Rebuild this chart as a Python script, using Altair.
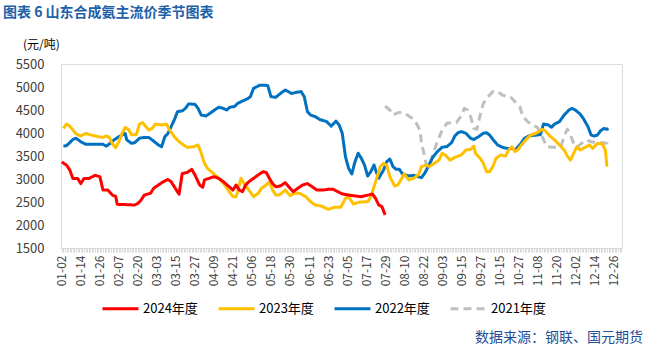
import altair as alt
import pandas as pd

# x positions are category indices (one category per trading day, labels every 12)
x_labels = ["01-02","01-14","01-26","02-07","02-20","03-03","03-15","03-27","04-09","04-21",
            "05-06","05-18","05-30","06-11","06-23","07-05","07-17","07-29","08-10","08-22",
            "09-03","09-15","09-27","10-15","10-27","11-08","11-20","12-02","12-14","12-26"]
y_ticks = [1500, 2000, 2500, 3000, 3500, 4000, 4500, 5000, 5500]

x_2024 = [0,3,5,7,10,12,14,17,21,24,26,29,32,34,35,46,48,50,52,54,56,58,61,64,67,69,71,74,76,79,82,84,
          87,89,90,93,96,99,102,105,108,110,112,114,116,118,121,124,127,129,131,133,135,138,141,144,
          146,149,152,155,158,161,165,168,171,177,183,189,196,198,200,202,204]
v_2024 = [3370,3300,3200,3010,3010,2900,3010,3010,3080,3050,2760,2760,2650,2620,2450,2435,2470,2540,
          2650,2670,2690,2800,2870,2940,2990,2940,2830,2670,3120,3140,3210,3090,2870,2820,2980,3015,
          3050,3015,2940,2850,2760,2870,2760,2725,2870,2940,3015,3090,3160,3140,3015,2900,2830,2850,
          2920,2800,2725,2800,2870,2900,2830,2760,2760,2775,2780,2675,2640,2615,2675,2580,2435,2400,2220]

x_2023 = [1,3,5,7,9,12,15,18,23,26,28,30,32,34,36,38,40,42,44,47,49,51,53,55,57,59,63,66,68,71,74,76,
          79,83,86,88,90,92,95,98,102,105,108,110,111,113,115,118,121,124,126,129,131,133,135,137,139,
          141,144,147,150,154,157,160,164,168,172,176,179,181,184,188,193,195,197,199,201,203,205,207,
          210,212,214,216,219,222,225,227,230,232,235,238,240,242,245,248,252,255,258,260,261,264,266,
          268,270,272,274,277,280,282,284,286,288,290,293,296,299,301,303,305,308,311,314,317,319,321,
          323,325,327,329,333,335,338,341,343,344]
v_2023 = [4100,4195,4150,4065,3980,3935,3990,3960,3920,3905,3935,3905,3760,3680,3810,3990,4120,4080,
          3960,3960,4195,4225,4140,4065,4100,4195,4175,4195,4065,3920,3810,3760,3690,3700,3740,3560,
          3340,3230,3140,3050,2905,2760,2615,2615,2725,3015,2905,2760,2615,2690,2800,2870,2940,2760,
          2650,2650,2700,2760,2640,2690,2690,2615,2505,2435,2410,2340,2385,2385,2580,2615,2455,2500,
          2505,2615,2830,3050,3270,3340,3300,3050,2850,2870,2980,3110,2980,3015,3090,3270,3300,3270,
          3340,3410,3560,3520,3410,3470,3520,3630,3645,3715,3560,3450,3340,3160,3160,3270,3450,3520,
          3500,3630,3700,3595,3645,3740,3860,3960,3990,4030,4080,4050,3935,3850,3740,3630,3500,3410,
          3560,3700,3630,3665,3740,3665,3775,3760,3630,3270]

x_2022 = [1,3,5,7,9,12,15,20,23,26,28,30,33,36,40,41,44,46,49,52,55,57,61,63,65,67,69,71,73,76,78,80,
          84,86,88,91,94,97,99,102,104,106,109,111,114,117,119,121,125,128,130,132,135,138,141,145,148,
          151,153,155,157,160,163,167,170,173,175,177,179,181,183,185,187,189,191,193,195,197,198,200,
          203,205,207,209,211,213,215,219,222,225,227,229,231,234,237,240,243,246,248,250,252,255,258,
          260,263,266,268,270,272,275,278,281,284,286,289,292,295,298,302,304,307,309,311,314,317,320,
          322,324,327,329,332,334,336,338,340,342,344,345]
v_2022 = [3715,3725,3790,3860,3885,3810,3755,3755,3755,3755,3715,3760,3850,3920,3990,3850,3775,3790,
          3885,3905,3900,3850,3740,3700,3920,3990,4140,4285,4465,4480,4535,4630,4625,4535,4390,4370,
          4440,4515,4560,4535,4500,4560,4575,4645,4695,4740,4790,4970,5040,5040,5030,4790,4775,4860,
          4935,4860,4885,4900,4790,4465,4390,4355,4290,4250,4150,4260,4175,3990,3485,3230,3110,3375,
          3560,3450,3305,3065,3160,3305,3195,3015,3195,3375,3435,3270,3210,3210,3110,3065,3080,3050,
          3030,3125,3255,3470,3595,3690,3705,3790,3935,4005,4030,3995,3885,3860,3920,3995,4005,3955,
          3860,3740,3690,3665,3665,3630,3740,3885,3940,3950,3965,4195,4175,4125,4195,4245,4390,4500,
          4535,4500,4415,4320,4140,3955,3935,3955,4050,4100,4080,4095]

x_2021 = [204,207,209,212,215,218,221,224,226,227,229,230,232,234,237,240,243,246,249,252,254,256,
          258,260,262,264,266,269,272,275,278,281,283,286,289,291,294,297,300,303,306,309,312,315,317,
          319,321,323,325,328,331,334,339,342,344,346]
v_2021 = [4585,4500,4390,4440,4450,4390,4320,4195,4065,3775,3485,3305,3270,3520,3810,4065,4210,4225,
          4225,4370,4535,4500,4355,4100,4080,4390,4645,4790,4900,4900,4825,4790,4790,4680,4575,4355,
          4245,4175,4125,3935,3705,3690,3690,3705,3935,4080,3955,3775,3690,3775,3850,3810,3790,3790,
          3775,3705]

years = ["2024年度", "2023年度", "2022年度", "2021年度"]
colors = ["#ff0000", "#ffc000", "#0070c0", "#bfbfbf"]
dashes = [[1, 0], [1, 0], [1, 0], [8, 5]]

rows = []
for yname, xs, vs in [("2021年度", x_2021, v_2021), ("2022年度", x_2022, v_2022),
                      ("2023年度", x_2023, v_2023), ("2024年度", x_2024, v_2024)]:
    for xi, vi in zip(xs, vs):
        rows.append({"year": yname, "idx": xi, "price": vi})
df = pd.DataFrame(rows)

FONT = "Noto Sans CJK SC"
label_arr = "[" + ",".join("'" + s + "'" for s in x_labels) + "]"

lines = alt.Chart(df).mark_line(strokeWidth=3, strokeJoin="round").encode(
    x=alt.X("idx:Q",
            scale=alt.Scale(domain=[-0.5, 353.5], nice=False, zero=False),
            axis=alt.Axis(title=None, values=list(range(0, 354)),
                          labelExpr="datum.value % 12 == 0 ? " + label_arr + "[datum.value / 12] : ''",
                          labelAngle=-90, labelOverlap=False, labelFontSize=12, labelColor="#404040",
                          labelFont=FONT, labelPadding=3,
                          tickColor="#d9d9d9", tickSize=4, tickWidth=1,
                          domainColor="#d9d9d9", domainWidth=1, grid=False)),
    y=alt.Y("price:Q",
            scale=alt.Scale(domain=[1500, 5500], nice=False, zero=False),
            axis=alt.Axis(title=None, values=y_ticks, grid=False, domain=False, ticks=False, format="d",
                          labelFontSize=13, labelColor="#404040", labelFont=FONT, labelPadding=17)),
    color=alt.Color("year:N", scale=alt.Scale(domain=years, range=colors),
                    sort=years, title=None,
                    legend=alt.Legend(orient="none", legendX=40, legendY=225, direction="horizontal",
                                      symbolType="stroke", symbolSize=1296, symbolStrokeWidth=3,
                                      labelFontSize=13, labelFont=FONT, labelColor="#000000",
                                      columnPadding=14, labelOffset=3, title=None)),
    strokeDash=alt.StrokeDash("year:N", scale=alt.Scale(domain=years, range=dashes),
                              sort=years, title=None, legend=None),
    order=alt.Order("year:N"),
)

title = alt.Chart(pd.DataFrame({"t": ["图表 6  山东合成氨主流价季节图表"]})).mark_text(
    align="left", baseline="middle", fontSize=14, fontWeight="bold", font=FONT, color="#2060a8"
).encode(text="t:N", x=alt.value(-58), y=alt.value(-51))

unit = alt.Chart(pd.DataFrame({"t": ["(元/吨)"]})).mark_text(
    align="left", baseline="middle", fontSize=12, font=FONT, color="#000000"
).encode(text="t:N", x=alt.value(-38), y=alt.value(-19))

source = alt.Chart(pd.DataFrame({"t": ["数据来源：钢联、国元期货"]})).mark_text(
    align="right", baseline="middle", fontSize=14, font=FONT, color="#1f4e99"
).encode(text="t:N", x=alt.value(582), y=alt.value(274))

chart = alt.layer(lines, title, unit, source).properties(
    width=561, height=184,
    autosize=alt.AutoSizeParams(type="none"),
    padding={"left": 61, "top": 64, "right": 27, "bottom": 107},
).configure_view(stroke=None).configure(background="white")

chart.save("out.html", embed_options={"renderer": "svg", "actions": False})
